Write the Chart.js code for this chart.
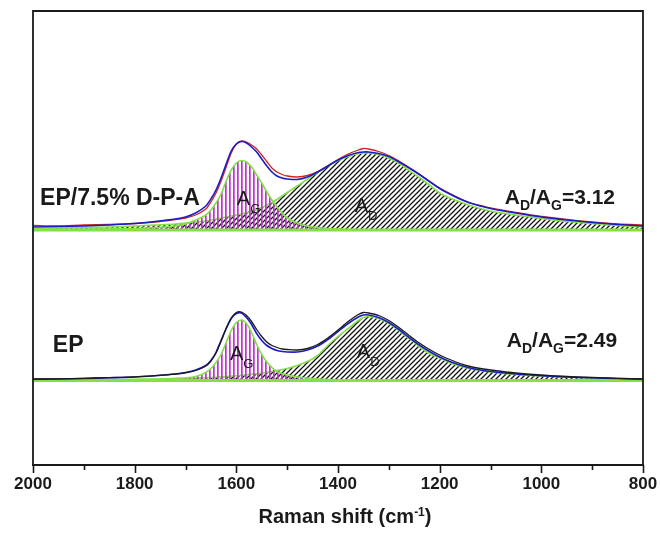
<!DOCTYPE html>
<html>
<head>
<meta charset="utf-8">
<script src="https://cdn.jsdelivr.net/npm/chart.js@4.4.1/dist/chart.umd.min.js"></script>
<style>
  html, body { margin: 0; padding: 0; background: #fff; }
  #wrap { width: 660px; height: 533px; }
</style>
</head>
<body>
<div id="wrap"><canvas id="raman" width="660" height="533"></canvas></div>
<script>
// ---- data ----
// Raman shift grid, cm-1
const shift = [2000, 1950, 1900, 1850, 1800, 1760, 1720, 1700, 1680, 1660,
               1650, 1640, 1630, 1620, 1610, 1600, 1590, 1580, 1570, 1560,
               1550, 1540, 1530, 1520, 1510, 1500, 1480, 1460, 1440, 1420,
               1400, 1380, 1360, 1350, 1340, 1320, 1300, 1280, 1260, 1240,
               1220, 1200, 1180, 1160, 1140, 1120, 1100, 1050, 1000, 950,
               900, 850, 800]

// EP/7.5% D-P-A (upper trace) -- intensities above its own baseline
const UP_BASE = 235
const upExp = [4.5, 4, 5, 5.5, 6.5, 8, 10.5, 12, 15, 21,
               28, 37, 49, 63, 77, 86, 89, 88, 85, 81,
               75, 68.5, 62, 58, 55.5, 54, 53, 54.5, 58.5, 64,
               70.5, 76, 80, 81.5, 81, 78.5, 74.5, 69, 62.5, 56,
               48.5, 42, 36.5, 31.5, 27, 24.5, 22, 17.5, 13.5, 10.5,
               8, 6, 5]
const upFit = [3, 3.5, 4, 5, 6.5, 8.5, 11, 13, 17, 24,
               31, 40, 52, 66, 79, 86, 88.5, 87, 83, 78,
               71, 64, 58, 54, 52, 51, 50.5, 53, 58, 64,
               70, 74.5, 77.5, 78, 78, 76.5, 73.5, 68, 62, 55.5,
               48.5, 41.5, 36, 31, 27, 24, 21.5, 17, 13, 10,
               7.5, 5.5, 4]
const upG = [0.3, 0.5, 0.7, 1, 1.5, 2.5, 4, 6, 10, 15,
             20, 27, 36, 49, 60, 67, 69.5, 68, 63, 55,
             47, 38, 30, 23, 17, 12, 7, 4, 2.5, 1.5,
             1, 0.5, 0.3, 0, 0, 0, 0, 0, 0, 0,
             0, 0, 0, 0, 0, 0, 0, 0, 0, 0,
             0, 0, 0]
const upD = [1.5, 2, 2.5, 3, 4, 5, 6, 7, 8, 9,
             10, 11, 12, 13, 14, 15, 16, 17.5, 19, 20.5,
             22.5, 25, 27.5, 30.5, 34, 37.5, 44, 51, 58, 64,
             69.5, 73.5, 76.5, 77, 77, 75.5, 72, 66.5, 59.5, 52.5,
             45, 37, 32, 28, 24.5, 21.5, 19, 15, 11.5, 8.5,
             6.5, 4.5, 3]

// EP (lower trace)
const LO_BASE = 84.5
const loExp = [1.5, 1.7, 2.2, 2.8, 3.6, 4.8, 6.3, 7.6, 10, 14.5,
               19.5, 27.5, 39.5, 52, 62.5, 68, 68.5, 65, 59, 51,
               44, 38.5, 35, 33, 31.5, 31, 30.5, 32, 36, 42.5,
               50.5, 59, 66, 68, 67.5, 65, 60, 53, 45, 37.5,
               31, 25.5, 21, 17, 14, 12, 10.5, 7.5, 5.5, 4,
               3, 2.2, 1.5]
const loFit = [1.2, 1.5, 2, 2.7, 3.5, 4.8, 6.5, 8, 10.5, 15,
               20, 28, 40, 52, 62, 67, 67.5, 63, 56, 47,
               40, 35, 32, 30, 29, 28.5, 28.5, 30.5, 34.5, 41,
               49, 57, 63.5, 65.5, 65.5, 63, 58, 51, 43, 35.5,
               29, 23.5, 19, 15.5, 12.5, 10.5, 9, 6.5, 4.8, 3.6,
               2.7, 2, 1.3]
const loG = [0, 0.2, 0.3, 0.5, 0.8, 1.2, 2, 2.5, 4, 8,
             12, 18, 26, 38, 50, 58, 60.5, 57, 48, 36,
             26, 18.5, 13, 9, 7, 5.5, 3.5, 2.5, 1.5, 1,
             0.5, 0.3, 0, 0, 0, 0, 0, 0, 0, 0,
             0, 0, 0, 0, 0, 0, 0, 0, 0, 0,
             0, 0, 0]
const loD = [0.5, 0.6, 0.8, 1, 1.2, 1.5, 2, 2.2, 2.5, 2.8,
             3, 3.3, 3.6, 4, 4.4, 4.8, 5.2, 5.7, 6.2, 6.8,
             7.5, 8.2, 9, 10, 11, 12, 15, 19, 25, 35,
             44, 52, 60, 63, 64, 62, 57, 50, 42, 34,
             27, 22.5, 18, 14.5, 12, 10, 8.5, 6, 4.5, 3.3,
             2.5, 1.8, 1.2]

const labeledTicks = [2000, 1800, 1600, 1400, 1200, 1000, 800]

// ---- styling ----
const FONT = '"Liberation Sans", Arial, sans-serif'
const GREEN = '#84e046', BLUE = '#1c1cc4', RED = '#d02424', INK = '#1a1a1a'

function hatch(kind) {
  const c = document.createElement('canvas')
  const g = c.getContext('2d')
  if (kind === 'vert') {
    c.width = 4; c.height = 4
    g.fillStyle = '#c22fd2'; g.fillRect(1, 0, 1, 4)
    g.fillStyle = 'rgba(194,47,210,0.7)'; g.fillRect(2, 0, 1, 4)
  } else {
    c.width = 5; c.height = 5
    g.strokeStyle = '#111'; g.lineWidth = 1.25
    g.beginPath()
    g.moveTo(0, 5); g.lineTo(5, 0)
    g.moveTo(-1, 1); g.lineTo(1, -1)
    g.moveTo(4, 6); g.lineTo(6, 4)
    g.stroke()
  }
  return g.createPattern(c, 'repeat')
}

const pts = (hs, base) => shift.map((x, i) => ({ x, y: base + hs[i] }))
const flat = base => [{ x: 2000, y: base }, { x: 800, y: base }]

function comp(hs, base, pattern, order) {
  return { data: pts(hs, base), borderColor: GREEN, borderWidth: 1.6, pointRadius: 0,
           cubicInterpolationMode: 'monotone', fill: { value: base }, backgroundColor: pattern, order }
}
function curve(hs, base, color, width, order) {
  return { data: pts(hs, base), borderColor: color, borderWidth: width, pointRadius: 0,
           tension: 0.25, fill: false, order }
}
function baseLine(base) {
  return { data: flat(base), borderColor: GREEN, borderWidth: 3, pointRadius: 0, fill: false, order: 4 }
}

const vert = hatch('vert'), diag = hatch('diag')

// rich text with sub/superscripts
function rich(ctx, x, y, parts, size, weight, subSize, subDy) {
  let cx = x
  ctx.textAlign = 'left'; ctx.textBaseline = 'alphabetic'
  for (const p of parts) {
    let t = p, fs = size, dy = 0
    if (typeof p !== 'string') {
      t = p.sub ?? p.sup
      fs = subSize
      dy = p.sub !== undefined ? subDy : -subDy
    }
    ctx.font = `${weight} ${fs}px ${FONT}`
    ctx.fillText(t, cx, y + dy)
    cx += ctx.measureText(t).width
  }
  return cx - x
}

const decor = {
  id: 'decor',
  afterDraw(chart) {
    const { ctx, chartArea: a, scales: { x, y } } = chart
    ctx.save()
    ctx.strokeStyle = INK; ctx.lineWidth = 1.8
    ctx.beginPath()
    ctx.moveTo(a.left, a.bottom); ctx.lineTo(a.left, a.top)
    ctx.lineTo(a.right, a.top); ctx.lineTo(a.right, a.bottom)
    ctx.stroke()
    // tick marks: long at labelled values, short in between
    ctx.lineWidth = 1.6
    x.ticks.forEach(t => {
      const px = Math.round(x.getPixelForValue(t.value)) + 0.5
      const len = labeledTicks.includes(t.value) ? 8 : 5
      ctx.beginPath(); ctx.moveTo(px, a.bottom); ctx.lineTo(px, a.bottom + len); ctx.stroke()
    })
    ctx.fillStyle = INK
    // axis title
    const tParts = ['Raman shift (cm', { sup: '-1' }, ')']
    ctx.globalAlpha = 0
    const w = rich(ctx, 0, 0, tParts, 20, 'bold', 12, 7)
    ctx.globalAlpha = 1
    rich(ctx, (a.left + a.right) / 2 - w / 2 + 7, 523, tParts, 20, 'bold', 12, 7)
    // sample names and ratios
    ctx.font = `bold 23px ${FONT}`
    ctx.fillText('EP/7.5% D-P-A', x.getPixelForValue(1986), y.getPixelForValue(260))
    ctx.fillText('EP', x.getPixelForValue(1961), y.getPixelForValue(113.5))
    rich(ctx, x.getPixelForValue(1072), y.getPixelForValue(261.5),
         ['A', { sub: 'D' }, '/A', { sub: 'G' }, '=3.12'], 21, 'bold', 14, 6)
    rich(ctx, x.getPixelForValue(1068), y.getPixelForValue(118.3),
         ['A', { sub: 'D' }, '/A', { sub: 'G' }, '=2.49'], 21, 'bold', 14, 6)
    // band area labels
    rich(ctx, x.getPixelForValue(1599), y.getPixelForValue(260), ['A', { sub: 'G' }], 20, 'normal', 13, 8)
    rich(ctx, x.getPixelForValue(1367), y.getPixelForValue(253.3), ['A', { sub: 'D' }], 20, 'normal', 13, 8)
    rich(ctx, x.getPixelForValue(1612.5), y.getPixelForValue(105), ['A', { sub: 'G' }], 20, 'normal', 13, 8)
    rich(ctx, x.getPixelForValue(1363), y.getPixelForValue(107), ['A', { sub: 'D' }], 20, 'normal', 13, 8)
    ctx.restore()
  }
}

new Chart(document.getElementById('raman'), {
  type: 'line',
  data: {
    datasets: [
      curve(upFit, UP_BASE, BLUE, 1.6, 1),
      curve(upExp, UP_BASE, RED, 1.3, 2),
      comp(upG, UP_BASE, vert, 5),
      comp(upD, UP_BASE, diag, 6),
      baseLine(UP_BASE),
      curve(loExp, LO_BASE, INK, 1.3, 1),
      curve(loFit, LO_BASE, BLUE, 1.6, 2),
      comp(loG, LO_BASE, vert, 5),
      comp(loD, LO_BASE, diag, 6),
      baseLine(LO_BASE)
    ]
  },
  options: {
    responsive: false,
    animation: false,
    devicePixelRatio: 1,
    layout: { padding: { left: 33, right: 17, top: 11, bottom: 0 } },
    plugins: { legend: { display: false }, tooltip: { enabled: false } },
    scales: {
      x: {
        type: 'linear', reverse: true, min: 800, max: 2000,
        afterFit: s => { s.height = 68 },
        grid: { display: false },
        border: { display: true, color: INK, width: 2 },
        ticks: {
          stepSize: 100, padding: 1, color: INK, maxRotation: 0, autoSkip: false,
          font: { family: FONT, size: 17, weight: 'bold' },
          callback: v => labeledTicks.includes(v) ? String(v) : ''
        }
      },
      y: { type: 'linear', min: 0, max: 454, display: false }
    }
  },
  plugins: [decor]
})
</script>
</body>
</html>
